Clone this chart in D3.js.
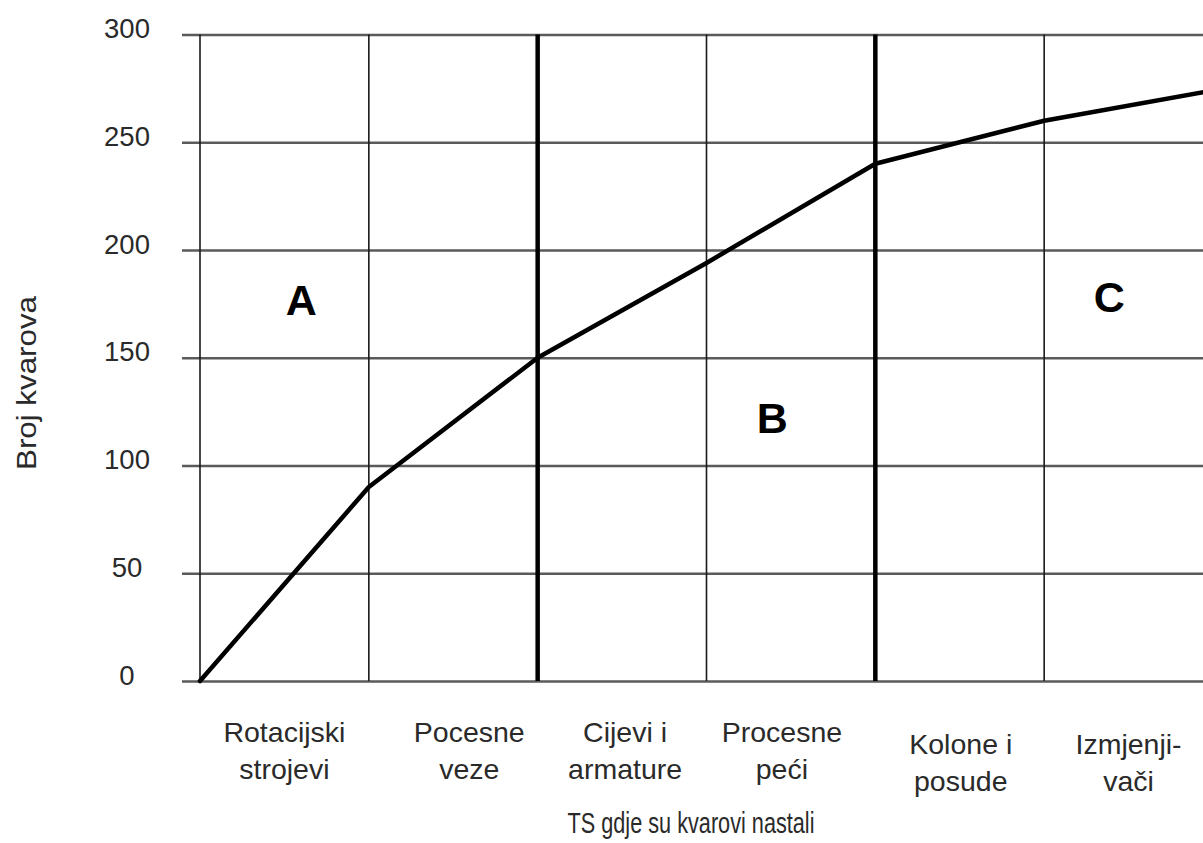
<!DOCTYPE html>
<html>
<head>
<meta charset="utf-8">
<script src="https://cdn.jsdelivr.net/npm/d3@7"></script>
<style>
  html, body { margin: 0; padding: 0; background: #fff; }
  svg { display: block; font-family: "Liberation Sans", Arial, sans-serif; }
</style>
</head>
<body>
<svg id="chart" width="1203" height="843"></svg>
<script>
// Failure sources (TS) and cumulative number of failures at each category boundary
const categories = [
  ["Rotacijski", "strojevi"],
  ["Pocesne", "veze"],
  ["Cijevi i", "armature"],
  ["Procesne", "peći"],
  ["Kolone i", "posude"],
  ["Izmjenji-", "vači"]
];
const cumulativeFailures = [0, 90, 150, 194, 240, 260, 274];
const yTicks = [0, 50, 100, 150, 200, 250, 300];
// ABC zones: boundary indices and zone names
const zoneBoundaries = [2, 4];
const zoneNames = ["A", "B", "C"];

const svg = d3.select("#chart");
const W = 1203;

const x = d3.scaleLinear().domain([0, categories.length]).range([200, 1213]);
const y = d3.scaleLinear().domain([0, 300]).range([681, 34.5]);

// Horizontal grid with tick labels
const yAxis = d3.axisLeft(y)
  .tickValues(yTicks)
  .tickSize(-(W - 182))
  .tickPadding(0);

const gy = svg.append("g")
  .attr("transform", "translate(182,0)")
  .call(yAxis);
gy.select(".domain").remove();
gy.selectAll(".tick line")
  .attr("stroke", "#5a5a5a")
  .attr("stroke-width", 2.4);
gy.selectAll(".tick text")
  .attr("x", 127 - 182)
  .attr("dy", 3)
  .attr("text-anchor", "middle")
  .attr("fill", "#2a2a2a")
  .style("font-size", "27.5px");

// Vertical category dividers; zone boundaries drawn heavier
const idx = d3.range(0, categories.length + 1);
svg.append("g").selectAll("line")
  .data(idx)
  .join("line")
  .attr("x1", d => x(d))
  .attr("x2", d => x(d))
  .attr("y1", y(300))
  .attr("y2", y(0))
  .attr("stroke", d => zoneBoundaries.includes(d) ? "#000" : "#1a1a1a")
  .attr("stroke-width", d => zoneBoundaries.includes(d) ? 4.5 : 1.6);

// Cumulative failure curve
const line = d3.line()
  .x((d, i) => x(i))
  .y(d => y(d));
svg.append("path")
  .datum(cumulativeFailures)
  .attr("d", line)
  .attr("fill", "none")
  .attr("stroke", "#000")
  .attr("stroke-width", 4.5)
  .attr("stroke-linejoin", "round")
  .attr("stroke-linecap", "round");

// Zone letters (positions in data units)
const zoneAnchors = [
  { i: 0.6, v: 170 },
  { i: 3.39, v: 115 },
  { i: 5.385, v: 171 }
];
svg.append("g").selectAll("text")
  .data(zoneNames)
  .join("text")
  .attr("x", (d, k) => x(zoneAnchors[k].i))
  .attr("y", (d, k) => y(zoneAnchors[k].v))
  .attr("text-anchor", "middle")
  .attr("font-weight", "bold")
  .style("font-size", "43px")
  .attr("fill", "#000")
  .text(d => d);

// Category labels, centred in each interval with small nudges
const labelNudge = [0, 16, 3, -9, 1, 0];
const labelDrop = [0, 0, 0, 0, 12, 12];
const gx = svg.append("g");
categories.forEach((lines, i) => {
  const t = gx.append("text")
    .attr("x", x(i + 0.5) + labelNudge[i])
    .attr("y", 742 + labelDrop[i])
    .attr("text-anchor", "middle")
    .attr("fill", "#2a2a2a")
    .style("font-size", "28.5px");
  lines.forEach((s, j) => {
    t.append("tspan")
      .attr("x", x(i + 0.5) + labelNudge[i])
      .attr("dy", j === 0 ? 0 : 37)
      .text(s);
  });
});

// Axis titles
svg.append("text")
  .attr("x", 691)
  .attr("y", 833)
  .attr("text-anchor", "middle")
  .attr("fill", "#2a2a2a")
  .style("font-size", "29px")
  .attr("textLength", 247)
  .attr("lengthAdjust", "spacingAndGlyphs")
  .text("TS gdje su kvarovi nastali");

svg.append("text")
  .attr("transform", "translate(36,383) rotate(-90)")
  .attr("text-anchor", "middle")
  .attr("fill", "#2a2a2a")
  .style("font-size", "27.5px")
  .attr("textLength", 174)
  .attr("lengthAdjust", "spacingAndGlyphs")
  .text("Broj kvarova");
</script>
</body>
</html>
